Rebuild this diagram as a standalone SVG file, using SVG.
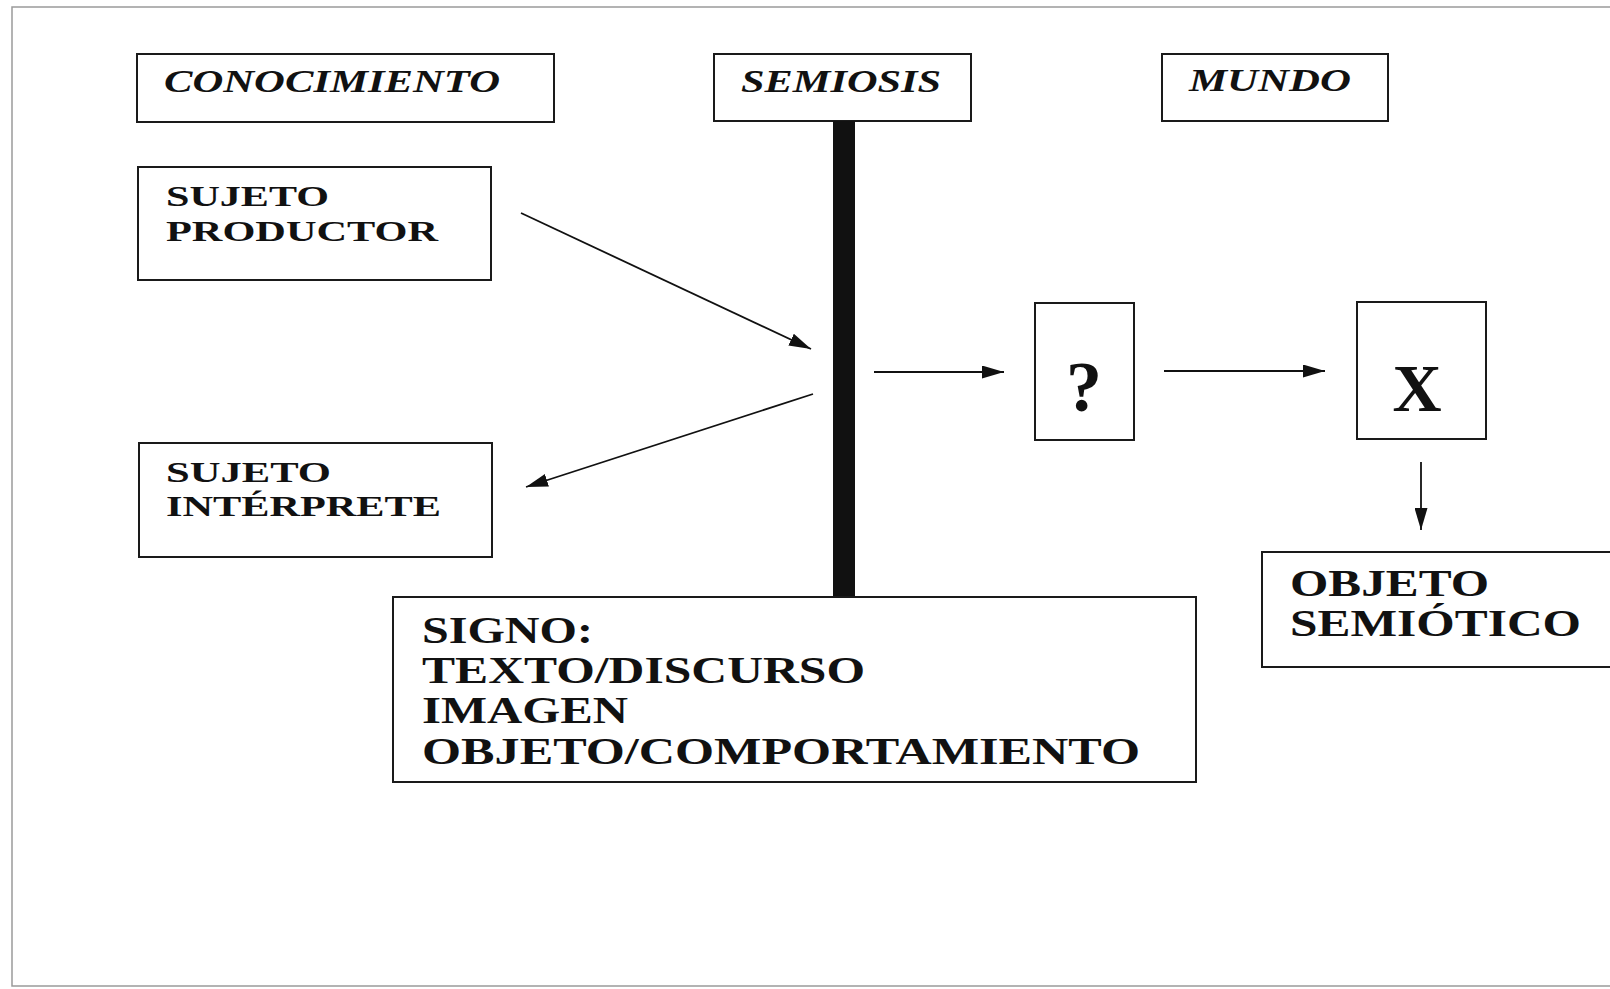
<svg xmlns="http://www.w3.org/2000/svg" width="1610" height="989" viewBox="0 0 1610 989">
<defs>
<style>
.box{fill:#fff;stroke:#1a1a1a;stroke-width:2}
.t{font-family:"Liberation Serif","Times New Roman",serif;font-weight:bold;fill:#111}
.ti{font-family:"Liberation Serif","Times New Roman",serif;font-weight:bold;font-style:italic;fill:#111;font-size:31px}
.s{font-size:30px}
.l{font-size:38px}
.conn{stroke:#111;stroke-width:1.8;fill:none;marker-end:url(#ah)}
</style>
<marker id="ah" viewBox="0 0 22 13" refX="22" refY="6.5" markerWidth="22" markerHeight="13" markerUnits="userSpaceOnUse" orient="auto">
<path d="M0,0 L22,6.5 L0,13 Z" fill="#111"/>
</marker>
</defs>
<rect width="1610" height="989" fill="#fff"/>
<rect x="12" y="7" width="1610" height="979" fill="none" stroke="#9a9a9a" stroke-width="1.5"/>

<g id="conocimiento">
<rect class="box" x="137" y="54" width="417" height="68"/>
<text class="ti" x="164" y="92" textLength="336" lengthAdjust="spacingAndGlyphs">CONOCIMIENTO</text>
</g>
<g id="semiosis">
<rect class="box" x="714" y="54" width="257" height="67"/>
<text class="ti" x="741" y="92" textLength="200" lengthAdjust="spacingAndGlyphs">SEMIOSIS</text>
</g>
<g id="mundo">
<rect class="box" x="1162" y="54" width="226" height="67"/>
<text class="ti" x="1189" y="91" textLength="162" lengthAdjust="spacingAndGlyphs">MUNDO</text>
</g>
<g id="sujeto-productor">
<rect class="box" x="138" y="167" width="353" height="113"/>
<text class="t s" x="166" y="206" textLength="163" lengthAdjust="spacingAndGlyphs">SUJETO</text>
<text class="t s" x="166" y="241" textLength="272" lengthAdjust="spacingAndGlyphs">PRODUCTOR</text>
</g>
<g id="sujeto-interprete">
<rect class="box" x="139" y="443" width="353" height="114"/>
<text class="t s" x="166" y="482" textLength="165" lengthAdjust="spacingAndGlyphs">SUJETO</text>
<text class="t s" x="166" y="516" textLength="275" lengthAdjust="spacingAndGlyphs">INTÉRPRETE</text>
</g>
<g id="barra">
<rect x="833" y="121" width="22" height="476" fill="#111"/>
</g>
<g id="signo">
<rect class="box" x="393" y="597" width="803" height="185"/>
<text class="t l" x="422" y="643" textLength="171" lengthAdjust="spacingAndGlyphs">SIGNO:</text>
<text class="t l" x="422" y="683" textLength="443" lengthAdjust="spacingAndGlyphs">TEXTO/DISCURSO</text>
<text class="t l" x="422" y="723" textLength="206" lengthAdjust="spacingAndGlyphs">IMAGEN</text>
<text class="t l" x="422" y="764" textLength="718" lengthAdjust="spacingAndGlyphs">OBJETO/COMPORTAMIENTO</text>
</g>
<g id="interrogante">
<rect class="box" x="1035" y="303" width="99" height="137"/>
<text class="t" x="1084" y="411" font-size="72" text-anchor="middle">?</text>
</g>
<g id="x">
<rect class="box" x="1357" y="302" width="129" height="137"/>
<text class="t" x="1417" y="411" font-size="68" text-anchor="middle">X</text>
</g>
<g id="objeto-semiotico">
<rect class="box" x="1262" y="552" width="360" height="115"/>
<text class="t l" x="1290" y="596" textLength="199" lengthAdjust="spacingAndGlyphs">OBJETO</text>
<text class="t l" x="1290" y="636" textLength="291" lengthAdjust="spacingAndGlyphs">SEMIÓTICO</text>
</g>

<g id="connectors">
<line class="conn" x1="521" y1="213" x2="811" y2="349"/>
<line class="conn" x1="813" y1="394" x2="526" y2="487"/>
<line class="conn" x1="874" y1="372" x2="1004" y2="372"/>
<line class="conn" x1="1164" y1="371" x2="1325" y2="371"/>
<line class="conn" x1="1421" y1="462" x2="1421" y2="530"/>
</g>
</svg>
